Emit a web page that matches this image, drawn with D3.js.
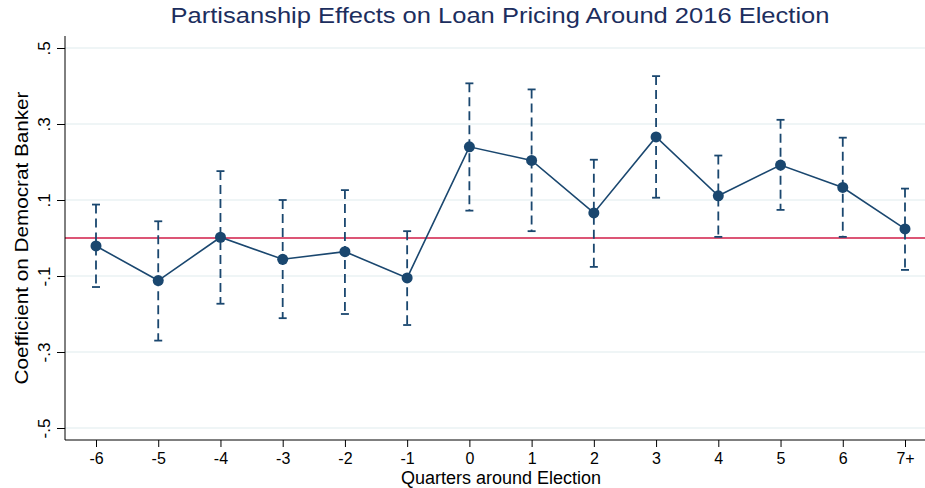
<!DOCTYPE html>
<html>
<head>
<meta charset="utf-8">
<script src="https://cdn.jsdelivr.net/npm/d3@7"></script>
<style>
  html, body { margin: 0; padding: 0; background: #ffffff; }
  svg { display: block; font-family: "Liberation Sans", Arial, sans-serif; }
</style>
</head>
<body>
<svg id="chart" width="925" height="488"></svg>
<script>
// Event-study coefficients by quarter relative to the 2016 election
const quarters = ["-6", "-5", "-4", "-3", "-2", "-1", "0", "1", "2", "3", "4", "5", "6", "7+"];
const coef  = [-0.021, -0.112, 0.002, -0.056, -0.036, -0.105, 0.240, 0.204, 0.066, 0.266, 0.111, 0.192, 0.133, 0.024];
const upper = [0.088, 0.044, 0.176, 0.100, 0.126, 0.018, 0.407, 0.391, 0.206, 0.426, 0.217, 0.311, 0.264, 0.130];
const lower = [-0.129, -0.270, -0.173, -0.211, -0.200, -0.229, 0.072, 0.018, -0.076, 0.106, 0.003, 0.074, 0.003, -0.084];
const yTicks = [0.5, 0.3, 0.1, -0.1, -0.3, -0.5];
const yTickLabels = [".5", ".3", ".1", "-.1", "-.3", "-.5"];

const navy = "#1a476f";
const svg = d3.select("#chart");

const x = d3.scalePoint().domain(quarters).range([96, 905]);
const y = d3.scaleLinear().domain([-0.5, 0.5]).range([428, 48]);

const plotLeft = 65, plotRight = 925, plotTop = 36, plotBottom = 440;

// Gridlines
svg.append("g")
  .selectAll("line")
  .data(yTicks)
  .join("line")
  .attr("x1", plotLeft).attr("x2", plotRight)
  .attr("y1", d => y(d)).attr("y2", d => y(d))
  .attr("stroke", "#eaf2f3").attr("stroke-width", 1.5);

// Reference line at zero
svg.append("line")
  .attr("x1", plotLeft).attr("x2", plotRight)
  .attr("y1", y(0)).attr("y2", y(0))
  .attr("stroke", "#d01c47").attr("stroke-width", 1.6);

// Y axis
const yAxis = d3.axisLeft(y)
  .tickValues(yTicks)
  .tickFormat((d, i) => yTickLabels[i])
  .tickSize(8)
  .tickSizeOuter(0);
const gy = svg.append("g").attr("transform", `translate(${plotLeft},0)`).call(yAxis);
gy.select(".domain").remove();
gy.append("line").attr("x1", 0).attr("x2", 0).attr("y1", plotTop).attr("y2", plotBottom)
  .attr("stroke", "#000").attr("stroke-width", 1);
gy.selectAll(".tick line").attr("stroke", "#000");
gy.selectAll(".tick text")
  .attr("font-size", 17)
  .attr("fill", "#000")
  .attr("text-anchor", "middle")
  .attr("x", 0).attr("dy", 0)
  .attr("transform", "translate(-15,0) rotate(-90)");

// X axis
const xAxis = d3.axisBottom(x).tickSize(7).tickSizeOuter(0).tickPadding(6);
const gx = svg.append("g").attr("transform", `translate(0,${plotBottom})`).call(xAxis);
gx.select(".domain").remove();
gx.append("line").attr("x1", plotLeft).attr("x2", plotRight).attr("y1", 0).attr("y2", 0)
  .attr("stroke", "#000").attr("stroke-width", 1);
gx.selectAll(".tick line").attr("stroke", "#000");
gx.selectAll(".tick text").attr("font-size", 16).attr("fill", "#000");

// Confidence intervals (dashed with caps)
const ci = svg.append("g");
quarters.forEach((q, i) => {
  const cx = x(q);
  ci.append("line")
    .attr("x1", cx).attr("x2", cx)
    .attr("y1", y(upper[i])).attr("y2", y(lower[i]))
    .attr("stroke", navy).attr("stroke-width", 1.8)
    .attr("stroke-dasharray", "9,5");
  [upper[i], lower[i]].forEach(v => {
    ci.append("line")
      .attr("x1", cx - 4).attr("x2", cx + 4)
      .attr("y1", y(v)).attr("y2", y(v))
      .attr("stroke", navy).attr("stroke-width", 1.8);
  });
});

// Connected point estimates
const line = d3.line().x((d, i) => x(quarters[i])).y(d => y(d));
svg.append("path")
  .datum(coef)
  .attr("d", line)
  .attr("fill", "none")
  .attr("stroke", navy)
  .attr("stroke-width", 1.6);

svg.append("g")
  .selectAll("circle")
  .data(coef)
  .join("circle")
  .attr("cx", (d, i) => x(quarters[i]))
  .attr("cy", d => y(d))
  .attr("r", 5.5)
  .attr("fill", navy);

// Titles (slightly widened glyphs)
svg.append("g")
  .attr("transform", "translate(500,23) scale(1.16,1)")
  .append("text")
  .attr("text-anchor", "middle")
  .attr("font-size", 22)
  .attr("fill", "#1c2e5e")
  .text("Partisanship Effects on Loan Pricing Around 2016 Election");

svg.append("text")
  .attr("x", 501).attr("y", 484)
  .attr("text-anchor", "middle")
  .attr("font-size", 18)
  .attr("fill", "#000")
  .text("Quarters around Election");

svg.append("g")
  .attr("transform", "translate(28,238) rotate(-90) scale(1.09,1)")
  .append("text")
  .attr("text-anchor", "middle")
  .attr("font-size", 19)
  .attr("fill", "#000")
  .text("Coefficient on Democrat Banker");
</script>
</body>
</html>
